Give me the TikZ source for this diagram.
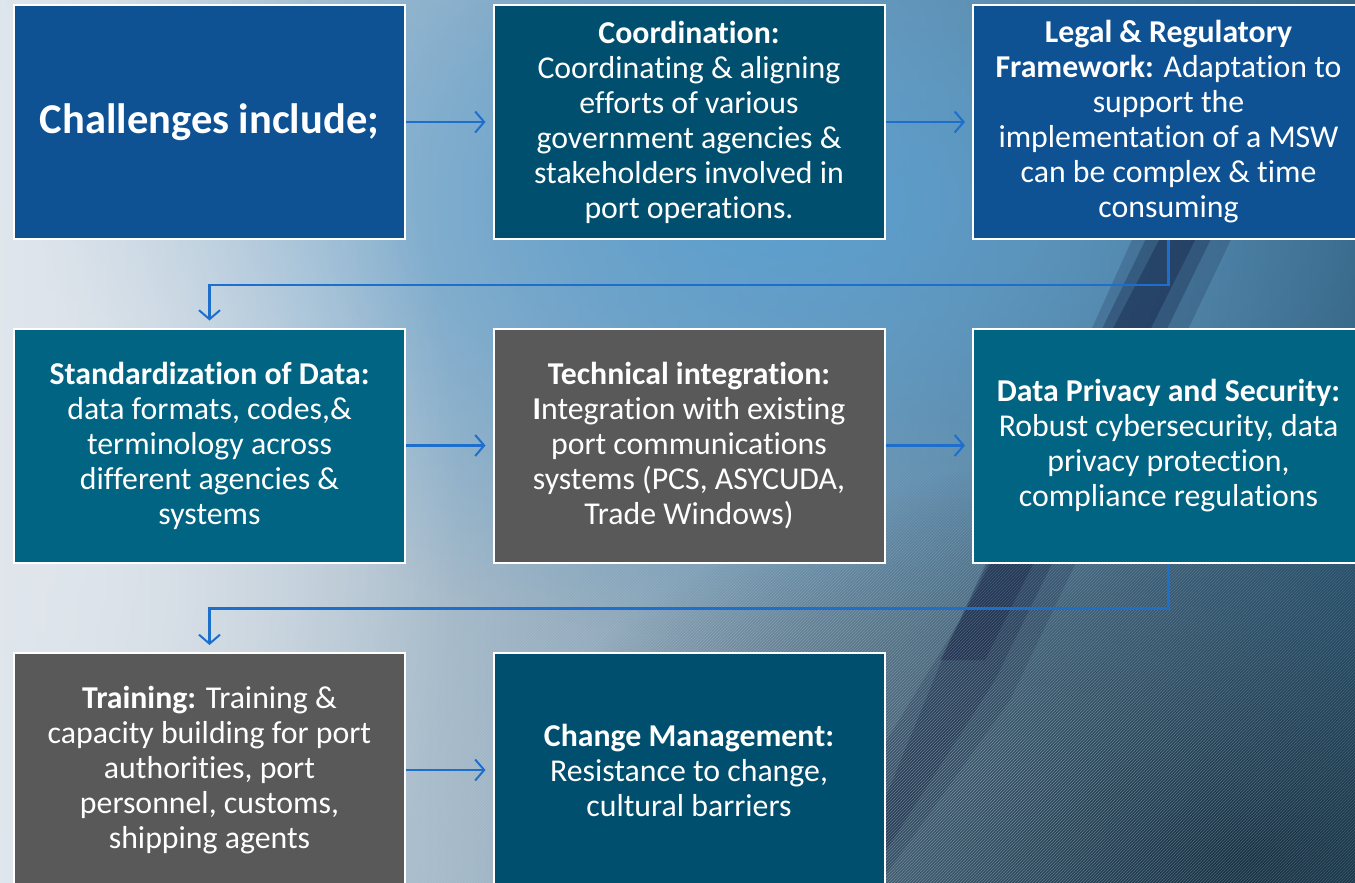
\documentclass[tikz,border=0pt]{standalone}
\usepackage{fontspec}
\setmainfont[Ligatures={NoCommon}]{Carlito}
\usetikzlibrary{arrows.meta,fadings,patterns}
\definecolor{bluebox}{RGB}{14,82,148}
\definecolor{coordbox}{RGB}{0,79,110}
\definecolor{tealbox}{RGB}{0,100,130}
\definecolor{graybox}{RGB}{89,89,89}
\definecolor{arrowc}{RGB}{30,111,204}
\definecolor{bgleft}{RGB}{222,230,238}
\definecolor{bgright}{RGB}{50,95,125}
\definecolor{skyblue}{RGB}{90,160,210}
\definecolor{navy}{RGB}{8,20,55}
\definecolor{denim}{RGB}{22,48,66}
\definecolor{pale}{RGB}{225,230,236}
\tikzfading[name=blob, inner color=transparent!0, outer color=transparent!100]
\begin{document}
\begin{tikzpicture}[x=1pt,y=-1pt,
  box/.style={draw=white, line width=2pt, minimum width=391pt, minimum height=234pt,
    text=white, align=center, inner sep=0pt, font=\fontsize{31.8}{35}\selectfont},
  conn/.style={draw=arrowc, line width=2.2pt, shorten >=7pt,
    -{Straight Barb[length=9pt,width=21pt,line width=2pt]}}]
\useasboundingbox (0,0) rectangle (1355,883);
\begin{scope}
\clip (0,0) rectangle (1355,883);
% background
\fill[left color=bgleft, right color=bgright] (0,0) rectangle (1355,883);
\fill[skyblue, path fading=blob, opacity=0.95] (780,200) ellipse (740 and 440);
\fill[pale, path fading=blob, opacity=0.9] (20,520) ellipse (440 and 700);
\fill[denim, path fading=blob, opacity=0.95] (1250,860) ellipse (760 and 420);
\fill[navy, opacity=0.18] (1150,200) -- (1250,200) -- (1010,700) -- (880,883) -- (800,883) -- (960,620) -- cycle;
\fill[navy, opacity=0.25] (1165,200) -- (1230,200) -- (995,680) -- (880,860) -- (860,860) -- (950,640) -- cycle;
\fill[navy, opacity=0.3] (1180,200) -- (1215,200) -- (985,660) -- (940,660) -- cycle;
\fill[pattern=north east lines, pattern color=white, path fading=blob, opacity=0.35] (1000,780) ellipse (750 and 380);
% boxes
\node[box, fill=bluebox] (ch) at (209.5,122) {\fontsize{42.5}{50}\selectfont\bfseries Challenges include;};
\node[box, fill=coordbox] (co) at (689,122) {\textbf{Coordination:}\\ Coordinating \& aligning\\ efforts of various\\ government agencies \&\\ stakeholders involved in\\ port operations.};
\node[box, fill=bluebox] (lr) at (1168.5,122) {\textbf{Legal \& Regulatory}\\ \textbf{Framework:} Adaptation to\\ support the\\ implementation of a MSW\\ can be complex \& time\\ consuming};
\node[box, fill=tealbox] (sd) at (209.5,445.5) {\textbf{Standardization of Data:}\\ data formats, codes,\&\\ terminology across\\ different agencies \&\\ systems};
\node[box, fill=graybox] (ti) at (689,445.5) {\textbf{Technical integration:}\\ \textbf{I}ntegration with existing\\ port communications\\ systems (PCS, ASYCUDA,\\ Trade Windows)};
\node[box, fill=tealbox] (dp) at (1168.5,445.5) {\textbf{Data Privacy and Security:}\\ Robust cybersecurity, data\\ privacy protection,\\ compliance regulations};
\node[box, fill=graybox] (tr) at (209.5,770) {\textbf{Training:} Training \&\\ capacity building for port\\ authorities, port\\ personnel, customs,\\ shipping agents};
\node[box, fill=coordbox] (cm) at (689,770) {\textbf{Change Management:}\\ Resistance to change,\\ cultural barriers};
% connectors
\draw[conn] (ch) -- (co);
\draw[conn] (co) -- (lr);
\draw[conn] (lr.south) -- ++(0,45) -| (sd.north);
\draw[conn] (sd) -- (ti);
\draw[conn] (ti) -- (dp);
\draw[conn] (dp.south) -- ++(0,45) -| (tr.north);
\draw[conn] (tr) -- (cm);
\end{scope}
\end{tikzpicture}
\end{document}
